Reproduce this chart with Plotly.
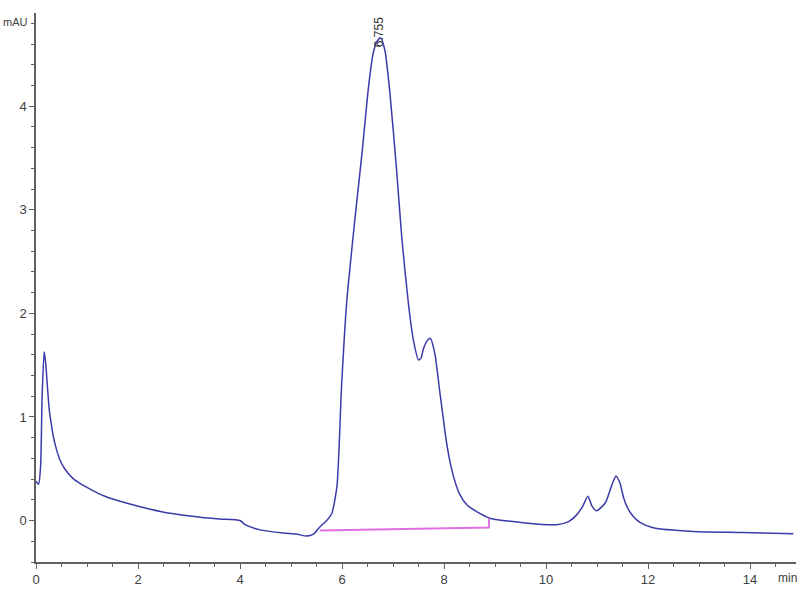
import plotly.graph_objects as go

# Chromatogram trace (time in min, absorbance in mAU)
time_min = [0.0, 0.05, 0.09, 0.12, 0.16, 0.19, 0.22, 0.26, 0.30, 0.34, 0.40, 0.47, 0.55, 0.63, 0.74,
            0.86, 1.0, 1.19, 1.35, 1.52, 1.84,
            2.24, 2.63, 3.22, 3.6, 4.0, 4.10, 4.39, 4.85, 5.1, 5.31, 5.44, 5.57, 5.70, 5.80,
            5.90, 5.99, 6.09, 6.25, 6.39, 6.52, 6.61, 6.68, 6.755, 6.84, 6.94, 7.07, 7.17,
            7.30, 7.40, 7.50, 7.55, 7.59, 7.66, 7.73, 7.82, 7.92, 8.05, 8.12, 8.20, 8.30,
            8.45, 8.64, 8.90, 9.55, 10.21, 10.44, 10.60, 10.72, 10.82, 10.90, 10.99,
            11.16, 11.28, 11.37, 11.45, 11.52, 11.60, 11.71, 11.85, 12.10, 12.89, 13.87, 14.85]
signal_mau = [0.38, 0.35, 0.52, 1.2, 1.63, 1.52, 1.32, 1.07, 0.93, 0.81, 0.69, 0.585, 0.51, 0.457, 0.40,
              0.36, 0.32, 0.27, 0.235, 0.206, 0.16,
              0.11, 0.07, 0.033, 0.015, 0.0, -0.04, -0.09, -0.12, -0.13, -0.15, -0.13, -0.06, 0.0, 0.07,
              0.33, 1.29, 2.10, 2.90, 3.54, 4.19, 4.51, 4.62, 4.66, 4.54, 4.12, 3.38, 2.74,
              2.10, 1.74, 1.55, 1.57, 1.65, 1.73, 1.76, 1.61, 1.23, 0.75, 0.56, 0.40, 0.26,
              0.15, 0.087, 0.023, -0.02, -0.04, -0.01, 0.055, 0.14, 0.235, 0.14, 0.095,
              0.17, 0.33, 0.43, 0.36, 0.22, 0.12, 0.04, -0.02, -0.07, -0.106, -0.116, -0.128]

# Integration baseline of the main peak
baseline_x = [5.57, 8.88, 8.88]
baseline_y = [-0.095, -0.068, 0.02]

peak_rt = 6.755
peak_label = "6.755"

x_tickvals = [0, 2, 4, 6, 8, 10, 12, 14]
y_tickvals = [0, 1, 2, 3, 4]

font_family = "Liberation Sans, Arial, sans-serif"

fig = go.Figure()
fig.add_trace(go.Scatter(x=time_min, y=signal_mau, mode="lines",
                         line=dict(color="#3a3aa8", width=1.5, shape="spline", smoothing=0.6),
                         hoverinfo="skip", showlegend=False))
fig.add_trace(go.Scatter(x=baseline_x, y=baseline_y, mode="lines",
                         line=dict(color="#e070e0", width=2),
                         hoverinfo="skip", showlegend=False))

axis_color = "#606060"
fig.update_layout(
    width=800, height=600,
    margin=dict(l=36, r=4, t=13, b=38, autoexpand=False),
    paper_bgcolor="white", plot_bgcolor="white",
    font=dict(family=font_family, size=13, color="#404040"),
    xaxis=dict(range=[0, 14.9], tickvals=x_tickvals, ticks="outside", ticklen=5,
               tickcolor=axis_color, showline=True, linecolor=axis_color, linewidth=1.5,
               showgrid=False, zeroline=False, automargin=False,
               minor=dict(dtick=0.5, tick0=0, ticks="outside", ticklen=3, tickcolor=axis_color,
                          showgrid=False)),
    yaxis=dict(range=[-0.4, 4.9], tickvals=y_tickvals, ticks="outside", ticklen=5,
               tickcolor=axis_color, showline=True, linecolor=axis_color, linewidth=1.5,
               showgrid=False, zeroline=False, automargin=False,
               minor=dict(dtick=0.2, tick0=0, ticks="outside", ticklen=3, tickcolor=axis_color,
                          showgrid=False)),
    annotations=[
        dict(text="mAU", xref="paper", yref="paper", x=0, y=0.9836, xanchor="right",
             yanchor="middle", xshift=-7, showarrow=False, borderpad=0,
             font=dict(size=11, color="#404040")),
        dict(text="min", xref="paper", yref="paper", x=1, y=-0.029, xanchor="right",
             yanchor="middle", xshift=2, showarrow=False, borderpad=0,
             font=dict(size=12, color="#404040")),
        dict(text=peak_label, x=peak_rt, y=4.71, xref="x", yref="y", textangle=-90,
             xanchor="center", yanchor="middle", showarrow=False, xshift=-2,
             font=dict(size=12, color="#333333")),
    ],
)

fig.write_html("out.html", config={"displayModeBar": False},
               post_script="document.body.style.margin='0';document.body.style.overflow='hidden';")
